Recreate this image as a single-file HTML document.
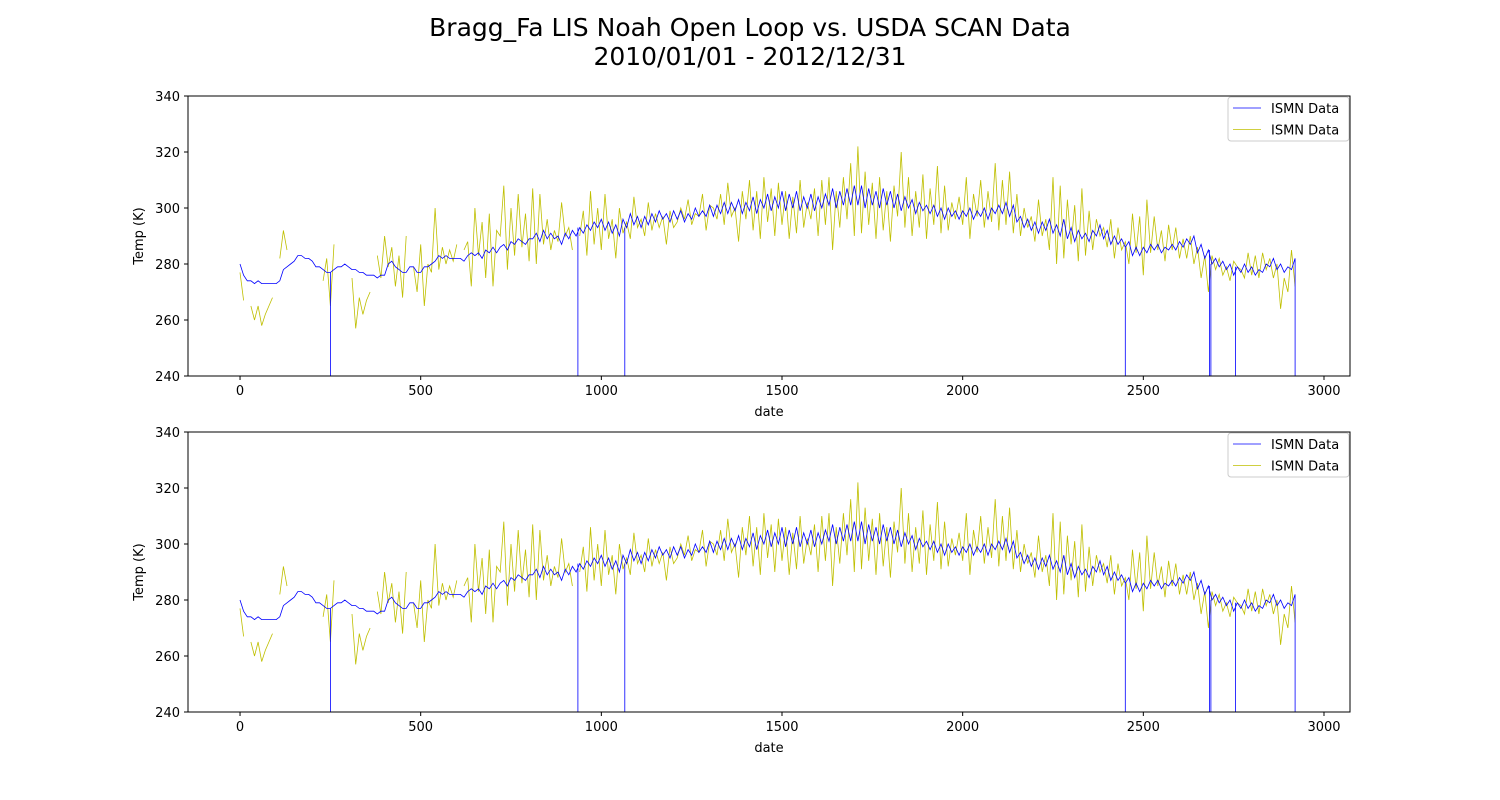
<!DOCTYPE html>
<html><head><meta charset="utf-8">
<style>
html,body{margin:0;padding:0;background:#fff;}
svg{display:block;font-family:"DejaVu Sans","Liberation Sans",sans-serif;}
</style></head>
<body>
<svg id="chart" width="1500" height="800" xmlns="http://www.w3.org/2000/svg">
<rect width="1500" height="800" fill="#fff"/>
<text x="750" y="36" text-anchor="middle" font-size="25">Bragg_Fa LIS Noah Open Loop vs. USDA SCAN Data</text>
<text x="750" y="65" text-anchor="middle" font-size="25">2010/01/01 - 2012/12/31</text>
</svg>
<script>
const xStep = 10;
const blueValues = [
280,276,274,274,273,274,273,273,273,273,273,
274,278,279,280,281,283,283,282,282,281,
279,279,278,277,277,278,279,279,280,279,
278,278,277,277,276,276,276,275,276,276,
280,281,279,278,277,277,279,279,277,277,
279,279,280,281,283,282,283,282,282,282,
282,281,283,284,283,284,282,285,284,286,
284,286,287,285,288,287,289,288,287,289,
289,291,288,292,289,291,289,290,287,291,
289,292,290,293,291,294,292,295,293,296,
292,295,291,294,290,296,293,298,294,297,
293,297,294,298,295,299,296,298,295,299,
296,299,295,298,296,300,297,299,297,301,
297,301,298,302,298,302,299,303,298,302,
299,304,298,303,300,305,299,304,300,306,
299,305,300,306,299,304,300,305,299,304,
300,305,301,307,300,306,301,307,301,308,
301,308,300,307,301,306,300,307,301,306,
300,305,299,304,300,303,298,302,299,301,
298,301,297,300,296,300,297,299,296,299,
297,300,296,299,297,300,296,300,298,301,
298,302,297,301,295,297,293,296,292,295,
291,295,292,296,291,294,290,296,289,293,
288,292,289,291,288,292,290,294,289,292,
287,290,287,289,286,288,283,286,283,286,
284,287,285,287,284,286,285,287,285,288,
286,289,287,290,284,287,282,285,280,282,
279,281,278,280,276,279,277,280,277,279,
276,278,277,280,279,282,278,280,277,279,
278,282];
const dropX = [250,935,1065,2450,2683,2687,2755,2920];
const yellowValues = [
277,267,null,265,260,265,258,262,265,268,null,
282,292,285,null,288,null,null,null,null,null,
270,null,274,282,265,287,null,null,null,null,
275,257,268,262,267,270,null,283,275,290,
279,286,272,283,268,290,null,279,270,287,
265,280,277,300,278,286,280,285,281,287,
null,285,288,272,300,283,295,275,298,272,
292,290,308,278,300,283,305,286,298,281,
307,280,305,287,296,285,292,288,302,290,
293,285,null,290,299,283,306,287,300,285,
305,289,296,282,300,291,295,289,304,293,
296,290,302,292,298,293,297,287,299,293,
295,300,296,303,294,298,297,305,292,301,
300,296,305,294,309,297,300,288,306,296,
310,292,306,289,311,295,307,290,309,294,
306,289,304,291,310,293,302,296,307,290,
310,294,311,285,306,293,311,296,316,290,
322,291,313,294,309,289,311,292,306,288,
308,297,320,293,311,290,306,293,312,289,
307,294,315,291,308,292,302,296,304,294,
311,289,305,297,310,293,306,295,316,292,
310,294,313,291,305,290,300,293,297,288,
303,290,296,285,311,280,308,282,303,287,
301,281,307,283,299,285,296,290,293,286,
296,282,293,285,288,280,298,284,297,276,
303,284,297,285,292,281,294,285,293,282,
289,282,290,280,286,275,283,270,283,278,
282,276,279,274,281,279,278,275,284,276,
283,275,284,278,282,275,280,264,275,270,
285,272];
const xTicks = [0,500,1000,1500,2000,2500,3000];
const yTicks = [240,260,280,300,320,340];
const legendLabels = ["ISMN Data","ISMN Data"];

const NS = "http://www.w3.org/2000/svg";
const svg = document.getElementById('chart');
function mk(tag, attrs, parent){const e=document.createElementNS(NS,tag);for(const k in attrs)e.setAttribute(k,attrs[k]);(parent||svg).appendChild(e);return e;}

const L=188,R=1350,XMIN=-144,XMAX=3072,YMIN=240,YMAX=340;
function drawPanel(top, idx){
  const B=top+280;
  const sx=v=>L+(v-XMIN)/(XMAX-XMIN)*(R-L);
  const sy=v=>B-(v-YMIN)/(YMAX-YMIN)*(B-top);
  const g=mk('g',{});
  
  
  const cid='clip'+idx;
  const cp=mk('clipPath',{id:cid},g);mk('rect',{x:L,y:top,width:R-L,height:B-top},cp);
  let d='',pen=false;
  yellowValues.forEach((v,i)=>{if(v===null){pen=false;return;}d+=(pen?'L':'M')+sx(i*xStep).toFixed(1)+' '+sy(v).toFixed(1);pen=true;});
  const yl=mk('path',{d:d,fill:'none',stroke:'#bfbf00','stroke-width':0.8,'clip-path':'url(#'+cid+')'},g);
  
  
  d='';
  blueValues.forEach((v,i)=>{d+=(i?'L':'M')+sx(i*xStep).toFixed(1)+' '+sy(v).toFixed(1);});
  dropX.forEach(x=>{const i=Math.min(blueValues.length-1,Math.round(x/xStep));d+='M'+sx(x).toFixed(1)+' '+sy(blueValues[i]).toFixed(1)+'L'+sx(x).toFixed(1)+' '+(B+5);});
  const bl=mk('path',{d:d,fill:'none',stroke:'#0000ff','stroke-width':0.8,'clip-path':'url(#'+cid+')'},g);
  
  
  const fr=mk('rect',{x:L,y:top,width:R-L,height:B-top,fill:'none',stroke:'#000','stroke-width':1},g);
  
  
  xTicks.forEach(t=>{const x=sx(t);mk('line',{x1:x,x2:x,y1:B,y2:B+4,stroke:'#000'},g);
    const tx=mk('text',{x:x,y:B+19,'text-anchor':'middle','font-size':13},g);tx.textContent=t;
    
    });
  yTicks.forEach(t=>{const y=sy(t);mk('line',{x1:L-4,x2:L,y1:y,y2:y,stroke:'#000'},g);
    const tx=mk('text',{x:L-8,y:y+5,'text-anchor':'end','font-size':13},g);tx.textContent=t;
    
    });
  const xt=mk('text',{x:(L+R)/2,y:B+40,'text-anchor':'middle','font-size':13},g);xt.textContent='date';
  
  
  const yt=mk('text',{x:0,y:0,'text-anchor':'middle','font-size':13,transform:'translate(143,'+(top+140)+') rotate(-90)'},g);yt.textContent='Temp (K)';
  
  
  const lg=mk('g',{},g);
  
  
  mk('rect',{x:1228,y:top+1,width:121,height:44,rx:3,fill:'#fff','fill-opacity':0.8,stroke:'#ccc'},lg);
  const cols=['#0000ff','#bfbf00'];
  legendLabels.forEach((lab,i)=>{const y=top+12+i*21.5;
    mk('line',{x1:1233,x2:1261,y1:y,y2:y,stroke:cols[i],'stroke-width':0.8},lg);
    const t=mk('text',{x:1271,y:y+5,'font-size':13},lg);t.textContent=lab;
    
    });
}
drawPanel(96,1);
drawPanel(432,2);
</script>
</body></html>
